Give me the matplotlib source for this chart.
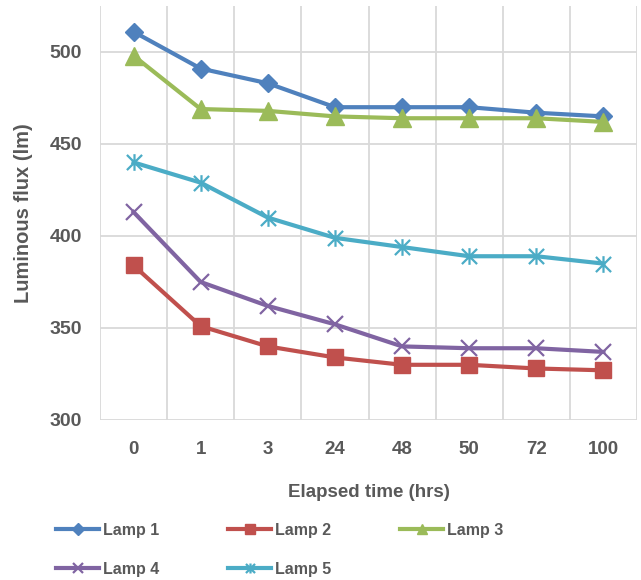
import numpy as np
import matplotlib.pyplot as plt
from matplotlib.path import Path

# elapsed time categories and luminous flux readings (lm)
hours = ["0", "1", "3", "24", "48", "50", "72", "100"]
lamp1 = [511, 491, 483, 470, 470, 470, 467, 465]
lamp2 = [384, 351, 340, 334, 330, 330, 328, 327]
lamp3 = [498, 469, 468, 465, 464, 464, 464, 462]
lamp4 = [413, 375, 362, 352, 340, 339, 339, 337]
lamp5 = [440, 429, 410, 399, 394, 389, 389, 385]
names = ["Lamp 1", "Lamp 2", "Lamp 3", "Lamp 4", "Lamp 5"]

plt.rcParams['font.family'] = ['Liberation Sans', 'DejaVu Sans']
plt.rcParams['font.weight'] = 'bold'
txt = "#595959"

star = Path([(-0.5, -0.5), (0.5, 0.5), (-0.5, 0.5), (0.5, -0.5), (0, -0.55), (0, 0.55)],
            [Path.MOVETO, Path.LINETO, Path.MOVETO, Path.LINETO, Path.MOVETO, Path.LINETO])

styles = [
    dict(color="#4F81BD", marker="D", ms=9.5),
    dict(color="#C0504D", marker="s", ms=12),
    dict(color="#9BBB59", marker="^", ms=12.5),
    dict(color="#8064A2", marker="x", ms=12, mew=1.6),
    dict(color="#4BACC6", marker=star, ms=12, mew=1.6),
]

fig = plt.figure(figsize=(6.41, 5.8), dpi=100)
ax = fig.add_axes([100 / 641, 1 - 420 / 580, 537 / 641, 414 / 580])

x = np.arange(len(hours))
lines = []
for vals, name, st in zip([lamp1, lamp2, lamp3, lamp4, lamp5], names, styles):
    ln, = ax.plot(x, vals, lw=3, label=name, solid_joinstyle="round", **st)
    lines.append(ln)

ax.set_xlim(-0.5, 7.5)
ax.set_ylim(300, 525)
ax.set_yticks([300, 350, 400, 450, 500])
ax.set_xticks(x)
ax.set_xticklabels(hours)
ax.set_xticks(np.arange(-0.5, 8, 1), minor=True)
ax.grid(True, which="minor", axis="x", color="#d9d9d9", lw=1.3)
ax.grid(True, which="major", axis="y", color="#d9d9d9", lw=1.3)
ax.set_axisbelow(True)
for s in ax.spines.values():
    s.set_visible(False)
ax.tick_params(which="both", length=0)
ax.tick_params(axis="y", labelsize=14, labelcolor=txt, pad=13)
ax.tick_params(axis="x", labelsize=13.5, labelcolor=txt, pad=15)

ax.set_xlabel("Elapsed time (hrs)", fontsize=13.5, color=txt, fontweight="bold", labelpad=19)
ax.set_ylabel("Luminous flux (lm)", fontsize=14.5, color=txt, fontweight="bold", labelpad=12)

order = [0, 3, 1, 4, 2]
fig.legend([lines[i] for i in order], [names[i] for i in order],
           ncol=3, loc="upper left", bbox_to_anchor=(48 / 641, 1 - 515 / 580),
           frameon=False, fontsize=11.5, labelcolor=txt, borderpad=0,
           handlelength=2.7, handletextpad=0.25, columnspacing=4.3,
           labelspacing=1.5, markerscale=0.6)

fig.savefig("out.png", dpi=100)
